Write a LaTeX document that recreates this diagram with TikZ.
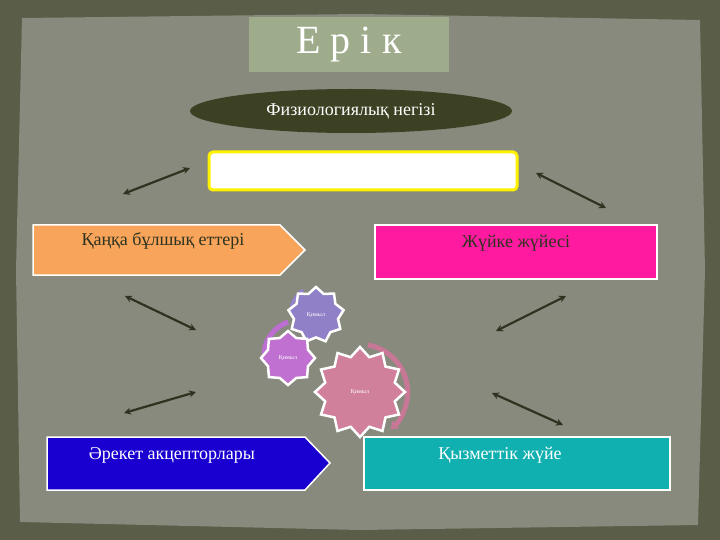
\documentclass[tikz,border=0pt]{standalone}
\usepackage{fontspec}
\setmainfont{Liberation Serif}
\usetikzlibrary{shapes.geometric,shapes.symbols,arrows.meta}
\definecolor{bord}{HTML}{5A5E48}
\definecolor{paper}{HTML}{878A7D}
\definecolor{arr}{HTML}{2E3320}
\definecolor{ttl}{RGB}{158,172,140}
\definecolor{ell}{RGB}{61,65,36}
\definecolor{org}{RGB}{248,164,90}
\definecolor{pnk}{RGB}{255,26,160}
\definecolor{blu}{RGB}{26,0,208}
\definecolor{tea}{RGB}{16,176,176}
\definecolor{c1}{RGB}{144,128,200}
\definecolor{c2}{RGB}{192,112,208}
\definecolor{c3}{RGB}{208,128,154}
\definecolor{k1}{RGB}{150,130,210}
\definecolor{k2}{RGB}{190,110,210}
\definecolor{k3}{RGB}{200,120,150}
\tikzset{
 dbl/.style={{Stealth[length=7pt,width=7pt]}-{Stealth[length=7pt,width=7pt]},line width=2.2pt,draw=arr},
 gear/.style={star,star points=#1,star point ratio=1.25,draw=white,line width=2.5pt,inner sep=0pt,text=white,font=\fontsize{6}{7}\selectfont},
 box/.style={draw=white,line width=1.5pt,inner sep=0pt},
 lbl/.style={font=\fontsize{18}{20}\selectfont}
}
\begin{document}
\begin{tikzpicture}[x=1pt,y=-1pt]
\useasboundingbox (0,0) rectangle (720,540);
\fill[bord] (0,0) rectangle (720,540);
\fill[paper] (22,18) -- (360,14) -- (700,20) -- (705,270) -- (698,525) -- (360,530) -- (20,522) -- (16,270) -- cycle;
\node[fill=ttl,minimum width=200pt,minimum height=55pt,text=white,font=\fontsize{40}{44}\selectfont] (title) at (349,44.5) {Е р і к};
\node[ellipse,fill=ell,minimum width=322pt,minimum height=44pt,text=white,font=\fontsize{18}{20}\selectfont] (fiz) at (351,111) {Физиологиялық негізі};
\node[fill=white,draw=yellow,line width=3pt,rounded corners=4pt,minimum width=308pt,minimum height=38pt] (yel) at (363,171) {};
\draw[box,fill=org] (33,225) -- (280,225) -- (305,250) -- (280,275) -- (33,275) -- cycle;
\node[lbl,text=arr,anchor=west] (kan) at (78,241) {Қаңқа бұлшық еттері};
\draw[box,fill=pnk] (375,225) rectangle (657,279);
\node[lbl,text=arr] (zh) at (516,243) {Жүйке жүйесі};
\draw[box,fill=blu] (47,437) -- (305,437) -- (330,463) -- (305,490) -- (47,490) -- cycle;
\node[lbl,text=white] (ar) at (172,455) {Әрекет акцепторлары};
\draw[box,fill=tea] (364,437) rectangle (670,490);
\node[lbl,text=white] (kz) at (500,455) {Қызметтік жүйе};
\coordinate (a1) at (123,194); \coordinate (b1) at (190,168);
\coordinate (a2) at (606,208); \coordinate (b2) at (536,173);
\coordinate (a3) at (125,296); \coordinate (b3) at (196,330);
\coordinate (a4) at (566,296); \coordinate (b4) at (496,331);
\coordinate (a5) at (124,413); \coordinate (b5) at (196,392);
\coordinate (a6) at (563,425); \coordinate (b6) at (492,393);
\foreach \i in {1,...,6} {\draw[dbl] (a\i) -- (b\i);}
\draw[k1,line width=3pt] (303,290) arc (-125:-165:30);
\draw[k2,line width=5pt,-{Triangle[length=6pt,width=9pt]}] (288,322) arc (-110:-190:35);
\draw[k3,line width=5pt,-{Triangle[length=7pt,width=10pt]}] (368,345) arc (-80:50:48);
\node[gear=9,fill=c1,minimum size=56pt] (g1) at (316,315) {Қимыл};
\node[gear=8,fill=c2,minimum size=54pt] (g2) at (288,358) {Қимыл};
\node[gear=12,fill=c3,minimum size=90pt] (g3) at (360,392) {Қимыл};
\end{tikzpicture}
\end{document}
